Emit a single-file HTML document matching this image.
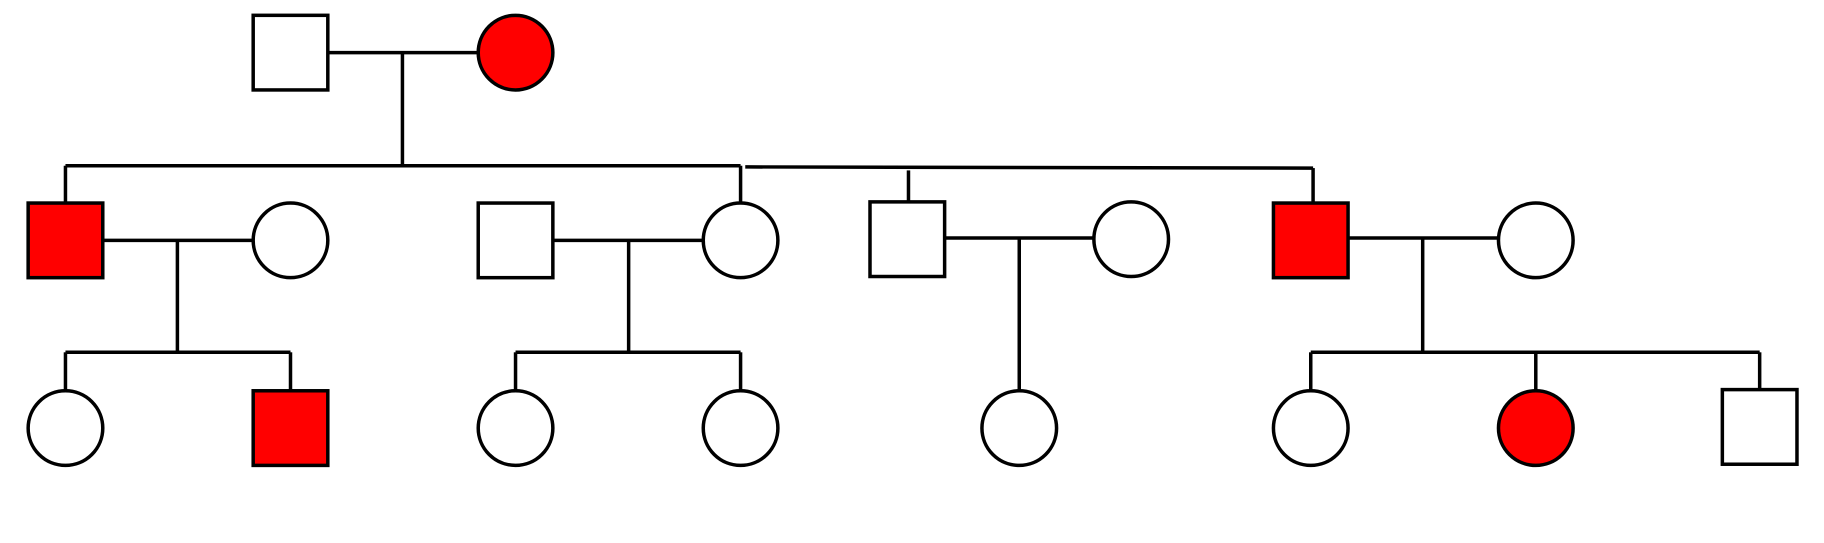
<!DOCTYPE html>
<html><head><meta charset="utf-8"><style>html,body{margin:0;padding:0;background:#fff}svg{display:block}</style></head>
<body>
<svg width="1824" height="543" viewBox="0 0 1824 543" xmlns="http://www.w3.org/2000/svg">
<g transform="translate(-1,-1) scale(1.166)">
<g stroke="#000" stroke-width="3" fill="none">
<line x1="282" y1="46" x2="411" y2="46"/>
<line x1="346" y1="46" x2="346" y2="143"/>
<line x1="57" y1="143" x2="636" y2="143"/>
<line x1="640" y1="144" x2="1127" y2="145"/>
<line x1="57" y1="143" x2="57" y2="175"/>
<line x1="636" y1="143" x2="636" y2="175"/>
<line x1="780" y1="147" x2="780" y2="174"/>
<line x1="1127" y1="145" x2="1127" y2="175"/>
<line x1="89" y1="207" x2="218" y2="207"/>
<line x1="153" y1="207" x2="153" y2="303"/>
<line x1="57" y1="303" x2="250" y2="303"/>
<line x1="57" y1="303" x2="57" y2="336"/>
<line x1="250" y1="303" x2="250" y2="336"/>
<line x1="475" y1="207" x2="604" y2="207"/>
<line x1="540" y1="207" x2="540" y2="303"/>
<line x1="443" y1="303" x2="636" y2="303"/>
<line x1="443" y1="303" x2="443" y2="336"/>
<line x1="636" y1="303" x2="636" y2="336"/>
<line x1="811" y1="205" x2="939" y2="205"/>
<line x1="875" y1="205" x2="875" y2="336"/>
<line x1="1157" y1="205" x2="1286" y2="205"/>
<line x1="1221" y1="205" x2="1221" y2="303"/>
<line x1="1125" y1="303" x2="1510" y2="303"/>
<line x1="1125" y1="303" x2="1125" y2="336"/>
<line x1="1318" y1="303" x2="1318" y2="336"/>
<line x1="1510" y1="303" x2="1510" y2="335"/>
</g>
<g stroke="#000" stroke-width="3">
<rect x="218" y="14" width="64" height="64" fill="#fff"/>
<circle cx="443" cy="46" r="32" fill="#f00"/>
<rect x="25" y="175" width="64" height="64" fill="#f00"/>
<circle cx="250" cy="207" r="32" fill="#fff"/>
<rect x="411" y="175" width="64" height="64" fill="#fff"/>
<circle cx="636" cy="207" r="32" fill="#fff"/>
<rect x="747" y="174" width="64" height="64" fill="#fff"/>
<circle cx="971" cy="206" r="32" fill="#fff"/>
<rect x="1093" y="175" width="64" height="64" fill="#f00"/>
<circle cx="1318" cy="207" r="32" fill="#fff"/>
<circle cx="57" cy="368" r="32" fill="#fff"/>
<rect x="218" y="336" width="64" height="64" fill="#f00"/>
<circle cx="443" cy="368" r="32" fill="#fff"/>
<circle cx="636" cy="368" r="32" fill="#fff"/>
<circle cx="875" cy="368" r="32" fill="#fff"/>
<circle cx="1125" cy="368" r="32" fill="#fff"/>
<circle cx="1318" cy="368" r="32" fill="#f00"/>
<rect x="1478" y="335" width="64" height="64" fill="#fff"/>
</g>
</g>
</svg>
</body></html>
